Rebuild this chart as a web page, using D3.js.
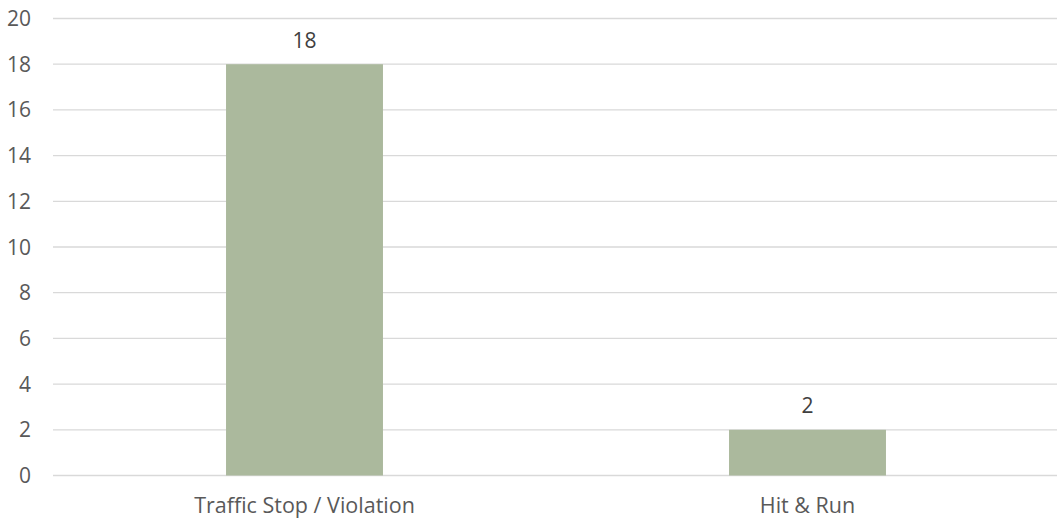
<!DOCTYPE html>
<html><head><meta charset="utf-8">
<script src="https://cdn.jsdelivr.net/npm/d3@7"></script>
<style>body{margin:0;background:#fff;} text{font-family:"Open Sans","Noto Sans",sans-serif;}</style>
</head><body><svg id="c" width="1057" height="519"></svg>
<script>
const categories = ["Traffic Stop / Violation", "Hit & Run"];
const values = [18, 2];
const yTicks = [0, 2, 4, 6, 8, 10, 12, 14, 16, 18, 20];

const svg = d3.select("#c");
const x = d3.scaleBand().domain(categories).range([53, 1059]).paddingInner(0.688).paddingOuter(0.344);
const y = d3.scaleLinear().domain([0, 20]).range([475.5, 18.5]);

const grid = svg.append("g");
grid.selectAll("line").data(yTicks).join("line")
  .attr("x1", 53).attr("x2", 1057)
  .attr("y1", d => y(d)).attr("y2", d => y(d))
  .attr("stroke", "#d9d9d9").attr("stroke-width", 1.3);

svg.append("g").selectAll("text").data(yTicks).join("text")
  .attr("x", 31).attr("y", d => y(d)).attr("dy", "0.36em")
  .attr("text-anchor", "end").attr("fill", "#595959").attr("font-size", 21)
  .text(d => d);

svg.append("g").selectAll("rect").data(values).join("rect")
  .attr("x", (d, i) => x(categories[i])).attr("width", x.bandwidth())
  .attr("y", d => y(d)).attr("height", d => y(0) - y(d))
  .attr("fill", "#abb99d");

svg.append("g").selectAll("text").data(values).join("text")
  .attr("x", (d, i) => x(categories[i]) + x.bandwidth() / 2)
  .attr("y", d => y(d) - 24).attr("dy", "0.36em")
  .attr("text-anchor", "middle").attr("fill", "#404040").attr("font-size", 21)
  .text(d => d);

svg.append("g").selectAll("text").data(categories).join("text")
  .attr("x", d => x(d) + x.bandwidth() / 2).attr("y", 505).attr("dy", "0.36em")
  .attr("text-anchor", "middle").attr("fill", "#595959").attr("font-size", 21.5)
  .text(d => d);
</script></body></html>
